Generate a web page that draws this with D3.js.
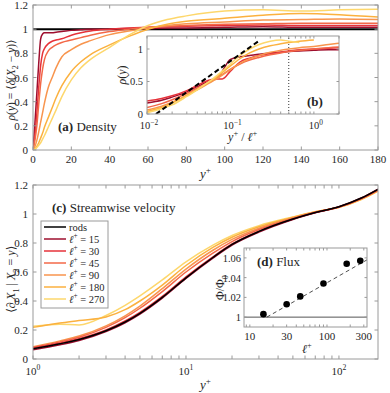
<!DOCTYPE html>
<html>
<head>
<meta charset="utf-8">
<script src="https://cdnjs.cloudflare.com/ajax/libs/d3/7.8.5/d3.min.js"></script>
<style>
body { margin: 0; background: #fff; }
svg, svg text { font-family: "Liberation Serif", "Times New Roman", "DejaVu Serif", serif; }
</style>
</head>
<body>
<div id="fig"></div>
<script>
// data
var ells = [15, 30, 45, 90, 180, 270];
var colors = ['#9e0f2e', '#e6323a', '#f36848', '#f8954e', '#fbb13f', '#fdd76c'];

// (a) density vs y+
var yDen = [0, 1, 2, 3, 4, 5, 6, 8, 10, 12, 15, 20, 25, 30, 40, 50, 60, 70, 80, 100, 120, 140, 160, 180];
var den15  = [0, 0.22, 0.47, 0.72, 0.92, 0.96, 0.97, 0.97, 0.97, 0.975, 0.98, 0.99, 0.995, 1.0, 1.0, 1.005, 1.005, 1.01, 1.01, 1.015, 1.02, 1.015, 1.015, 1.015];
var den30  = [0, 0.12, 0.3, 0.52, 0.7, 0.8, 0.84, 0.88, 0.9, 0.91, 0.92, 0.95, 0.97, 0.985, 1.0, 1.01, 1.015, 1.02, 1.025, 1.03, 1.035, 1.03, 1.03, 1.03];
var den45  = [0, 0.08, 0.2, 0.38, 0.55, 0.67, 0.75, 0.82, 0.85, 0.87, 0.89, 0.91, 0.93, 0.95, 0.98, 1.0, 1.015, 1.025, 1.03, 1.04, 1.045, 1.05, 1.05, 1.05];
var den90  = [0, 0.03, 0.08, 0.15, 0.23, 0.31, 0.39, 0.52, 0.6, 0.68, 0.77, 0.83, 0.875, 0.905, 0.955, 0.985, 1.01, 1.03, 1.045, 1.06, 1.075, 1.08, 1.085, 1.08];
var den180 = [0, 0.01, 0.03, 0.06, 0.1, 0.14, 0.19, 0.27, 0.35, 0.43, 0.53, 0.65, 0.73, 0.79, 0.87, 0.94, 1.0, 1.04, 1.065, 1.09, 1.115, 1.13, 1.12, 1.1];
var den270 = [0, 0.005, 0.02, 0.04, 0.06, 0.09, 0.12, 0.19, 0.26, 0.33, 0.44, 0.58, 0.68, 0.75, 0.85, 0.95, 1.03, 1.08, 1.11, 1.15, 1.16, 1.15, 1.16, 1.165];
var rodsDenY = [0, 180];
var rodsDen = [1, 1];

// (b) density vs y+/l+
var insR = [0.01, 0.015, 0.02, 0.03, 0.04, 0.05, 0.06, 0.07, 0.08, 0.1, 0.13, 0.17, 0.22, 0.3, 0.4, 0.5, 0.67, 1, 1.5, 2];
var ins15  = [0.17, 0.21, 0.26, 0.34, 0.42, 0.48, 0.52, 0.56, 0.66, 0.84, 0.88, 0.9, 0.92, 0.94, 0.95, 0.96, 0.97, 0.98, 0.99, 0.99];
var ins30  = [0.2, 0.24, 0.28, 0.36, 0.44, 0.5, 0.53, 0.54, 0.54, 0.66, 0.8, 0.86, 0.9, 0.93, 0.95, 0.97, 0.99, 1.0, 1.01, 1.02];
var ins45  = [0.1, 0.16, 0.22, 0.32, 0.4, 0.46, 0.52, 0.57, 0.61, 0.69, 0.77, 0.83, 0.87, 0.91, 0.94, 0.96, 0.98, 1.0, 1.02, 1.03];
var ins90  = [0.06, 0.12, 0.18, 0.29, 0.37, 0.44, 0.5, 0.55, 0.6, 0.68, 0.78, 0.85, 0.9, 0.95, 0.98, 1.0, 1.02, 1.04, 1.07, 1.09];
var ins180 = [0.04, 0.1, 0.17, 0.29, 0.38, 0.46, 0.52, 0.58, 0.64, 0.74, 0.85, 0.94, 1.0, 1.05, 1.08, 1.1, 1.12, 1.14, null, null];
var ins270 = [0.02, 0.08, 0.14, 0.27, 0.37, 0.46, 0.53, 0.6, 0.66, 0.77, 0.9, 1.0, 1.07, 1.12, 1.14, 1.12, 1.1, null, null, null];
var dashR = [0.0128, 0.228];
var dashV = [0, 1.14];
var dotR = 0.5;

// (c) streamwise velocity vs y+
var yVel = [1, 1.5, 2, 3, 4, 5, 7, 10, 15, 20, 30, 50, 70, 100, 140, 180];
var velRods = [0.07, 0.105, 0.135, 0.195, 0.255, 0.315, 0.425, 0.56, 0.7, 0.79, 0.88, 0.965, 1.01, 1.05, 1.11, 1.17];
var vel15  = [0.063, 0.098, 0.128, 0.19, 0.25, 0.31, 0.42, 0.555, 0.695, 0.785, 0.875, 0.962, 1.008, 1.05, 1.11, 1.172];
var vel30  = [0.075, 0.11, 0.14, 0.2, 0.262, 0.322, 0.432, 0.567, 0.705, 0.793, 0.882, 0.966, 1.01, 1.049, 1.108, 1.168];
var vel45  = [0.08, 0.118, 0.15, 0.218, 0.285, 0.35, 0.465, 0.6, 0.73, 0.81, 0.893, 0.97, 1.012, 1.048, 1.106, 1.165];
var vel90  = [0.085, 0.125, 0.158, 0.228, 0.298, 0.365, 0.485, 0.62, 0.75, 0.825, 0.902, 0.973, 1.013, 1.047, 1.104, 1.162];
var vel180 = [0.218, 0.248, 0.265, 0.29, 0.34, 0.4, 0.51, 0.645, 0.77, 0.84, 0.912, 0.977, 1.015, 1.046, 1.102, 1.16];
var vel270 = [0.225, 0.24, 0.235, 0.3, 0.37, 0.435, 0.545, 0.67, 0.785, 0.852, 0.92, 0.98, 1.016, 1.046, 1.1, 1.158];

// (d) flux
var fluxEll = [15, 30, 45, 90, 180, 270];
var fluxVal = [1.003, 1.013, 1.021, 1.034, 1.054, 1.057];
var fitEll = [16.6, 330];
var fitVal = [1, 1.058];

var denSeries = [den15, den30, den45, den90, den180, den270];
var insSeries = [ins15, ins30, ins45, ins90, ins180, ins270];
var velSeries = [vel15, vel30, vel45, vel90, vel180, vel270];

var axisCol = '#9a9a9a';
var txtCol = '#262626';
var serif = 'Liberation Serif, Times New Roman, DejaVu Serif, serif';

var svg = d3.select('#fig')
.append('svg')
.attr('width', 390)
.attr('height', 393)
.attr('font-family', serif);

var defs = svg.append('defs');

// helper: text made of pieces, some italic, sub or sup
function rich(text, parts, size) {
    var shift = 0;
    parts.forEach(function(p) {
        var kind = p[1] || '';
        var want = 0;
        if (kind.indexOf('sub') >= 0) want = size * 0.3;
        if (kind.indexOf('sup') >= 0) want = -size * 0.42;
        var ts = text.append('tspan').text(p[0]).attr('dy', want - shift);
        shift = want;
        if (want !== 0) ts.attr('font-size', size * 0.7);
        if (kind.indexOf('it') >= 0) ts.style('font-style', 'italic');
        if (kind.indexOf('bf') >= 0) ts.style('font-weight', 'bold');
    });
    return text;
}

function label(x, y, parts, size, anchor, rot) {
    var t = svg.append('text')
    .attr('font-family', serif)
    .attr('font-size', size)
    .attr('fill', txtCol)
    .attr('text-anchor', anchor || 'start');
    if (rot) {
        t.attr('transform', 'translate(' + x + ',' + y + ') rotate(-90)');
    } else {
        t.attr('x', x).attr('y', y);
    }
    return rich(t, parts, size);
}

// group for one axes, with white background for insets
function frame(x, y, white) {
    var xr = x.range(), yr = y.range();
    var g = svg.append('g');
    if (white) {
        g.append('rect')
        .attr('x', xr[0]).attr('y', yr[1])
        .attr('width', xr[1] - xr[0]).attr('height', yr[0] - yr[1])
        .attr('fill', '#fff');
    }
    return g;
}

// inward ticks on all four sides plus box
function ticksAndBox(g, x, y, xt, yt, len) {
    var xr = x.range(), yr = y.range();
    xt.forEach(function(t) {
        var px = x(t);
        g.append('line').attr('x1', px).attr('x2', px).attr('y1', yr[0]).attr('y2', yr[0] - len).attr('stroke', axisCol);
        g.append('line').attr('x1', px).attr('x2', px).attr('y1', yr[1]).attr('y2', yr[1] + len).attr('stroke', axisCol);
    });
    yt.forEach(function(t) {
        var py = y(t);
        g.append('line').attr('y1', py).attr('y2', py).attr('x1', xr[0]).attr('x2', xr[0] + len).attr('stroke', axisCol);
        g.append('line').attr('y1', py).attr('y2', py).attr('x1', xr[1]).attr('x2', xr[1] - len).attr('stroke', axisCol);
    });
    g.append('rect')
    .attr('x', xr[0]).attr('y', yr[1])
    .attr('width', xr[1] - xr[0]).attr('height', yr[0] - yr[1])
    .attr('fill', 'none')
    .attr('stroke', axisCol);
}

function clip(id, x, y) {
    var xr = x.range(), yr = y.range();
    defs.append('clipPath').attr('id', id)
    .append('rect')
    .attr('x', xr[0]).attr('y', yr[1])
    .attr('width', xr[1] - xr[0]).attr('height', yr[0] - yr[1]);
}

function minorLog(lo, hi) {
    var out = [];
    for (var e = -3; e <= 3; e++) {
        for (var k = 1; k < 10; k++) {
            var v = k * Math.pow(10, e);
            if (v >= lo * 0.999 && v <= hi * 1.001) out.push(v);
        }
    }
    return out;
}

// ---------------- (a) density ----------------
var xa = d3.scaleLinear().domain([0, 180]).range([33, 378]);
var ya = d3.scaleLinear().domain([0, 1.2]).range([150, 5]);
clip('clipA', xa, ya);

var ga = frame(xa, ya, false);
var gaLines = ga.append('g').attr('clip-path', 'url(#clipA)');

var lineA = d3.line()
.x(function(d) { return xa(d[0]); })
.y(function(d) { return ya(d[1]); })
.curve(d3.curveMonotoneX);

gaLines.append('path')
.attr('d', lineA(d3.zip(rodsDenY, rodsDen)))
.attr('fill', 'none')
.attr('stroke', '#000')
.attr('stroke-width', 2);

denSeries.forEach(function(s, i) {
    gaLines.append('path')
    .attr('d', lineA(d3.zip(yDen, s)))
    .attr('fill', 'none')
    .attr('stroke', colors[i])
    .attr('stroke-width', 1.5);
});

var xaT = d3.range(0, 181, 20);
var yaT = [0, 0.2, 0.4, 0.6, 0.8, 1, 1.2];
ticksAndBox(ga, xa, ya, xaT, yaT, 3.5);
xaT.forEach(function(t) { label(xa(t), 163, [[String(t)]], 11, 'middle'); });
yaT.forEach(function(t) { label(28, ya(t) + 4, [[String(t)]], 11, 'end'); });
label(xa(90), 178, [['y', 'it'], ['+', 'sup']], 13, 'middle');
label(15, ya(0.58), [['ρ', 'it'], ['('], ['y', 'it'], [') = ⟨'], ['δ', 'it'], ['('], ['X', 'it'], ['2', 'sub'], [' − '], ['y', 'it'], [')⟩']], 11.5, 'middle', true);
label(58, 131, [['(a)', 'bf'], [' Density']], 13, 'start');

// ---------------- (b) inset ----------------
var xb = d3.scaleLog().domain([0.01, 2]).range([147, 339]);
var yb = d3.scaleLinear().domain([0, 1.2]).range([114, 36]);
clip('clipB', xb, yb);
var gb = frame(xb, yb, true);
var gbLines = gb.append('g').attr('clip-path', 'url(#clipB)');

var lineB = d3.line()
.defined(function(d) { return d[1] !== null; })
.x(function(d) { return xb(d[0]); })
.y(function(d) { return yb(d[1]); })
.curve(d3.curveMonotoneX);

gbLines.append('line')
.attr('x1', xb(dotR)).attr('x2', xb(dotR))
.attr('y1', yb(0)).attr('y2', yb(1.2))
.attr('stroke', '#000')
.attr('stroke-width', 0.8)
.attr('stroke-dasharray', '1,2');

insSeries.forEach(function(s, i) {
    gbLines.append('path')
    .attr('d', lineB(d3.zip(insR, s)))
    .attr('fill', 'none')
    .attr('stroke', colors[i])
    .attr('stroke-width', 1.5);
});

gbLines.append('path')
.attr('d', d3.line().x(function(d) { return xb(d[0]); }).y(function(d) { return yb(d[1]); })(d3.zip(dashR, dashV)))
.attr('fill', 'none')
.attr('stroke', '#000')
.attr('stroke-width', 2)
.attr('stroke-dasharray', '5,3');

ticksAndBox(gb, xb, yb, minorLog(0.01, 2), [0, 0.5, 1], 2.5);
[[0.01, '−2'], [0.1, '−1'], [1, '0']].forEach(function(t) {
    label(xb(t[0]) + 2, 129, [['10'], [t[1], 'sup']], 10.5, 'middle');
});
[[0, '0'], [0.5, '0.5'], [1, '1']].forEach(function(t) {
    label(143, yb(t[0]) + 3.5, [[t[1]]], 10.5, 'end');
});
label(xb(0.14), 141, [['y', 'it'], ['+', 'sup'], [' / '], ['ℓ', 'it'], ['+', 'sup']], 12, 'middle');
label(126, yb(0.6), [['ρ', 'it'], ['('], ['y', 'it'], [')']], 12, 'middle', true);
label(307, 106, [['(b)', 'bf']], 13, 'start');

// ---------------- (c) streamwise velocity ----------------
var xc = d3.scaleLog().domain([1, 180]).range([33, 378]);
var yc = d3.scaleLinear().domain([0, 1.2]).range([359, 185]);
clip('clipC', xc, yc);
var gc = frame(xc, yc, false);
var gcLines = gc.append('g').attr('clip-path', 'url(#clipC)');

var lineC = d3.line()
.x(function(d) { return xc(d[0]); })
.y(function(d) { return yc(d[1]); })
.curve(d3.curveMonotoneX);

// lighter lines first so the dark ones sit on top
for (var i = velSeries.length - 1; i >= 0; i--) {
    gcLines.append('path')
    .attr('d', lineC(d3.zip(yVel, velSeries[i])))
    .attr('fill', 'none')
    .attr('stroke', colors[i])
    .attr('stroke-width', 1.5);
}
gcLines.append('path')
.attr('d', lineC(d3.zip(yVel, velRods)))
.attr('fill', 'none')
.attr('stroke', '#000')
.attr('stroke-width', 1.5);

var ycT = [0, 0.2, 0.4, 0.6, 0.8, 1, 1.2];
ticksAndBox(gc, xc, yc, minorLog(1, 180), ycT, 3.5);
[[1, '0'], [10, '1'], [100, '2']].forEach(function(t) {
    label(xc(t[0]), 375, [['10'], [t[1], 'sup']], 11, 'middle');
});
ycT.forEach(function(t) { label(28, yc(t) + 4, [[String(t)]], 11, 'end'); });
label(xc(13.4), 389, [['y', 'it'], ['+', 'sup']], 13, 'middle');
label(15, yc(0.55), [['⟨∂'], ['t', 'itsub'], ['X', 'it'], ['1', 'sub'], [' | '], ['X', 'it'], ['2', 'sub'], [' = '], ['y', 'it'], ['⟩']], 12, 'middle', true);
label(52, 212, [['(c)', 'bf'], [' Streamwise velocity']], 13, 'start');

// legend
var lg = svg.append('g');
lg.append('rect')
.attr('x', 41).attr('y', 221)
.attr('width', 67).attr('height', 87)
.attr('fill', '#fff')
.attr('stroke', axisCol);
var legNames = ['rods'].concat(ells);
var legCols = ['#000'].concat(colors);
legNames.forEach(function(n, i) {
    var yy = 227 + i * 12;
    lg.append('line')
    .attr('x1', 44).attr('x2', 66)
    .attr('y1', yy).attr('y2', yy)
    .attr('stroke', legCols[i])
    .attr('stroke-width', 1.5);
    var t = lg.append('text')
    .attr('x', 69).attr('y', yy + 3.5)
    .attr('font-family', serif)
    .attr('font-size', 10.5)
    .attr('fill', txtCol);
    if (i === 0) rich(t, [['rods']], 10.5);
    else rich(t, [['ℓ', 'it'], ['+', 'sup'], [' = ' + n]], 10.5);
});

// ---------------- (d) flux ----------------
var xd = d3.scaleLog().domain([8.4, 330]).range([244, 367]);
var yd = d3.scaleLinear().domain([0.99, 1.07]).range([327, 248]);
clip('clipD', xd, yd);
var gd = frame(xd, yd, true);
var gdLines = gd.append('g').attr('clip-path', 'url(#clipD)');

gdLines.append('line')
.attr('x1', xd(8.4)).attr('x2', xd(330))
.attr('y1', yd(1)).attr('y2', yd(1))
.attr('stroke', '#555')
.attr('stroke-width', 1);

gdLines.append('path')
.attr('d', d3.line().x(function(d) { return xd(d[0]); }).y(function(d) { return yd(d[1]); })(d3.zip(fitEll, fitVal)))
.attr('fill', 'none')
.attr('stroke', '#222')
.attr('stroke-width', 0.8)
.attr('stroke-dasharray', '4,3');

gdLines.selectAll('circle')
.data(d3.zip(fluxEll, fluxVal))
.enter()
.append('circle')
.attr('cx', function(d) { return xd(d[0]); })
.attr('cy', function(d) { return yd(d[1]); })
.attr('r', 3.3)
.attr('fill', '#000');

var xdT = [10, 30, 100, 300];
var ydT = [1, 1.02, 1.04, 1.06];
ticksAndBox(gd, xd, yd, minorLog(9, 330), ydT, 2.5);
xdT.forEach(function(t) { label(xd(t), 340, [[String(t)]], 11, 'middle'); });
ydT.forEach(function(t) { label(241, yd(t) + 4, [[String(t)]], 10.5, 'end'); });
label(xd(55), 353, [['ℓ', 'it'], ['+', 'sup']], 12, 'middle');
label(224, yd(1.03), [['Φ/Φ'], ['0', 'sub']], 12, 'middle', true);
label(257, 266, [['(d)', 'bf'], [' Flux']], 13, 'start');
</script>
</body>
</html>
